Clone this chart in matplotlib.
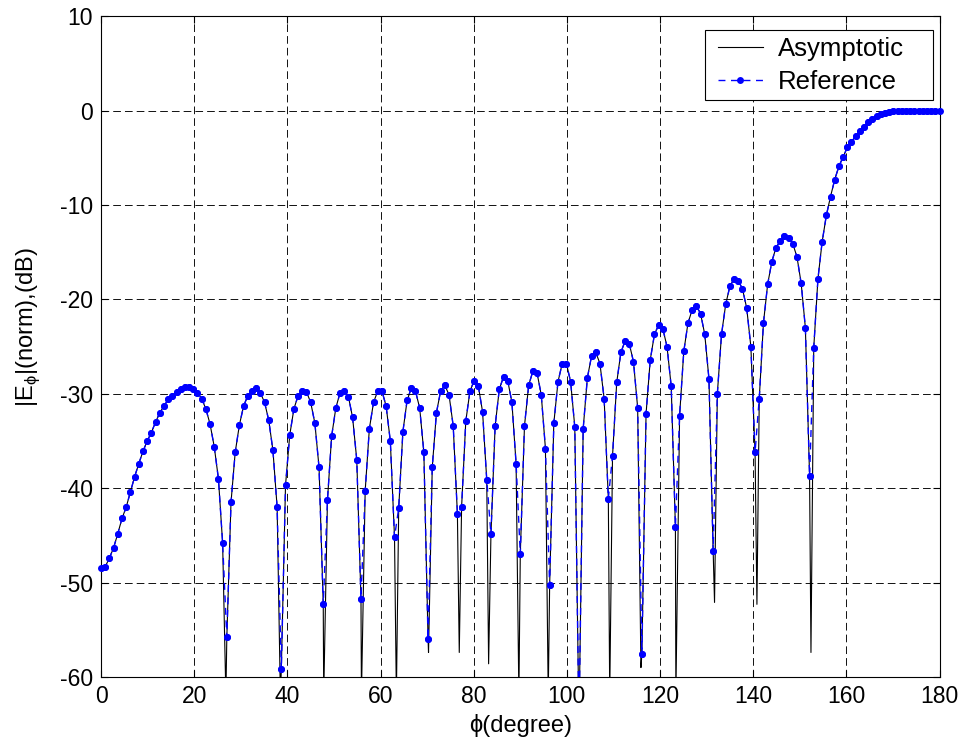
import numpy as np
import matplotlib
matplotlib.use("Agg")
import matplotlib.pyplot as plt
from matplotlib.patches import Rectangle

plt.rcParams['font.family'] = ['Liberation Sans', 'DejaVu Sans']
plt.rcParams['axes.unicode_minus'] = False

# Reference samples (0.9 degree spacing)
phi_step = 0.9
ref_db = [
    -48.4, -48.3, -47.4, -46.3, -44.8, -43.2, -42.0, -40.4, -38.8, -37.4,   # 0 - 8.1
    -36.1, -35.0, -34.1, -33.0, -32.0, -31.3, -30.6, -30.2, -29.8, -29.5,   # 9.0 - 17.1
    -29.3, -29.3, -29.5, -29.9, -30.5, -31.6, -33.2, -35.6, -39.0, -45.8,   # 18.0 - 26.1
    -55.8, -41.5, -36.2, -33.3, -31.3, -30.2, -29.7, -29.4, -29.9, -30.9,   # 27.0 - 35.1
    -32.8, -36.0, -42.0, -59.2, -39.7, -34.4, -31.6, -30.2, -29.7, -29.8,   # 36.0 - 44.1
    -30.9, -33.1, -37.8, -52.3, -41.3, -34.5, -31.5, -29.9, -29.7, -30.3,   # 45.0 - 53.1
    -32.5, -37.0, -51.7, -40.3, -33.7, -30.9, -29.7, -29.7, -31.3, -35.0,   # 54.0 - 62.1
    -45.2, -42.1, -34.0, -30.7, -29.4, -29.7, -31.5, -36.2, -56.0, -37.8,   # 63.0 - 71.1
    -32.0, -29.7, -29.1, -30.1, -33.4, -42.7, -42.0, -32.9, -29.7, -28.6,   # 72.0 - 80.1
    -29.2, -31.9, -39.1, -44.9, -33.4, -29.5, -28.2, -28.6, -30.9, -37.4,   # 81.0 - 89.1
    -47.0, -33.4, -29.1, -27.6, -27.8, -30.1, -35.8, -50.3, -33.1, -28.7,   # 90.0 - 98.1
    -26.8, -26.8, -28.7, -33.5, -65.0, -33.7, -28.3, -26.0, -25.6, -26.8,   # 99.0 - 107.1
    -30.5, -41.1, -36.6, -28.8, -25.6, -24.4, -24.7, -26.6, -31.5, -57.6,   # 108.0 - 116.1
    -32.1, -26.4, -23.7, -22.7, -23.1, -25.0, -29.2, -44.1, -32.3, -25.5,   # 117.0 - 125.1
    -22.5, -21.1, -20.7, -21.5, -23.7, -28.4, -46.6, -30.0, -23.7, -20.5,   # 126.0 - 134.1
    -18.6, -17.8, -18.0, -18.9, -20.9, -25.0, -36.2, -30.5, -22.5, -18.4,   # 135.0 - 143.1
    -16.0, -14.5, -13.8, -13.3, -13.5, -14.1, -15.5, -18.3, -23.0, -38.7,   # 144.0 - 152.1
    -25.1, -17.8, -13.9, -11.1, -9.1, -7.3, -5.9, -4.9, -3.9, -3.3,         # 153.0 - 161.1
    -2.7, -2.2, -1.7, -1.2, -0.9, -0.6, -0.4, -0.2, -0.1, 0.0,              # 162.0 - 170.1
    0.0, 0.0, 0.0, 0.0, 0.0, 0.0, 0.0, 0.0, 0.0, 0.0,                       # 171.0 - 179.1
    0.0,                                                                    # 180.0
]
ref_phi = [round(i * phi_step, 1) for i in range(len(ref_db))]

# Asymptotic curve: follows the reference samples, with its own deeper nulls
null_phi = [26.8, 38.5, 47.8, 55.9, 63.4, 70.3, 76.9, 83.2, 89.7, 96.0,
            102.5, 109.2, 115.9, 123.4, 131.7, 140.8, 152.4]
null_db = [-62.0, -62.0, -62.0, -62.0, -62.0, -57.4, -57.4, -58.6, -62.0, -62.0,
           -62.0, -62.0, -59.0, -62.0, -52.1, -52.3, -57.4]

asym = sorted(list(zip(ref_phi, ref_db)) + list(zip(null_phi, null_db)))
asym_phi = [p for p, _ in asym]
asym_db = [d for _, d in asym]

xticks = [0, 20, 40, 60, 80, 100, 120, 140, 160, 180]
yticks = [-60, -50, -40, -30, -20, -10, 0, 10]

fig = plt.figure(figsize=(9.66, 7.42), dpi=100)
ax = fig.add_axes([0.1046, 0.0876, 0.868, 0.8905])

ax.plot(asym_phi, asym_db, color='black', linewidth=0.8, label='Asymptotic', zorder=3)
ax.plot(ref_phi, ref_db, color='#0000ff', linestyle=(0, (5, 4)), linewidth=1.0,
        marker='o', markersize=5.0, markeredgewidth=0, label='Reference', zorder=4)
# markers are not clipped at the axes edges (as in the original); only those inside the y-range
vis = [(p, d) for p, d in zip(ref_phi, ref_db) if d >= -60]
ax.plot([p for p, _ in vis], [d for _, d in vis], linestyle='none', color='#0000ff',
        marker='o', markersize=5.0, markeredgewidth=0, clip_on=False, zorder=4)

ax.set_xlim(0, 180)
ax.set_ylim(-60, 10)
ax.set_xticks(xticks)
ax.set_yticks(yticks)
ax.grid(True, color='black', linestyle=(0, (8.5, 4.5)), linewidth=0.65)
ax.set_axisbelow(True)
ax.tick_params(direction='in', top=True, right=True, labelsize=16.5, length=5,
               width=0.8, pad=6)
for s in ax.spines.values():
    s.set_linewidth(0.8)

ax.set_xlabel('ϕ(degree)', fontsize=17, labelpad=4)
ax.set_ylabel(r'|E$_{\mathregular{\phi}}$|(norm),(dB)', fontsize=17)
ax.yaxis.set_label_coords(-0.0703, 0.5295)

# legend box (MATLAB style, wider padding) drawn as a frame behind a frameless legend
frame = Rectangle((0.7199, 0.8729), 0.2718, 0.1059, transform=ax.transAxes,
                  facecolor='white', edgecolor='black', linewidth=0.8,
                  zorder=4.9, clip_on=False)
ax.add_patch(frame)
leg = ax.legend(loc='center left', fontsize=18.5, frameon=False,
                borderpad=0, handlelength=1.75, handletextpad=0.6,
                labelspacing=0.36, borderaxespad=0,
                bbox_to_anchor=(0.7354, 0.9259))
leg.set_zorder(5)

fig.savefig('out.png', dpi=100)
